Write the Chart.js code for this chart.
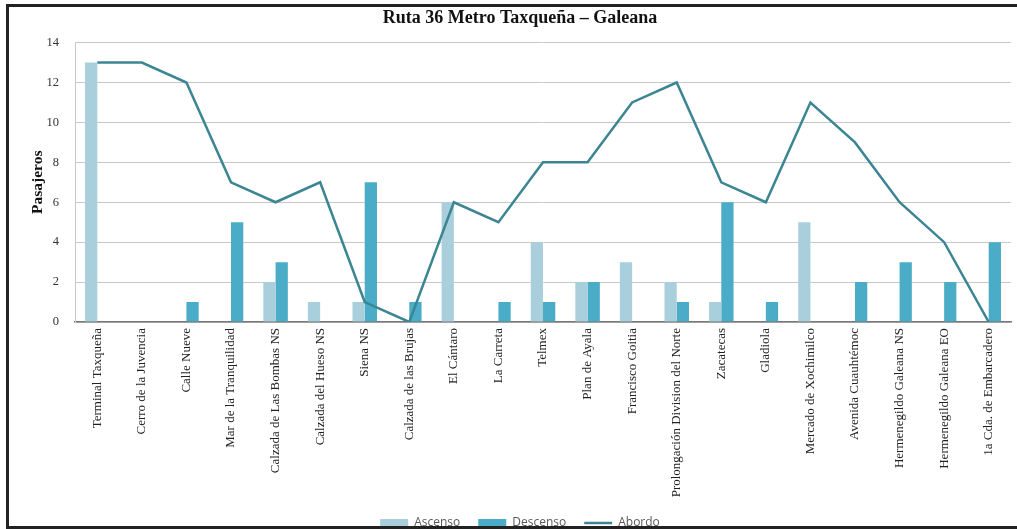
<!DOCTYPE html>
<html>
<head>
<meta charset="utf-8">
<script src="https://cdn.jsdelivr.net/npm/chart.js@4"></script>
<style>
  html, body { margin: 0; padding: 0; background: #fff; overflow: hidden; }
  #wrap { position: relative; width: 1017px; height: 539px; }
  #frame {
    position: absolute; left: 6px; top: 4px; width: 1011px; height: 519px;
    border-left: 3px solid #222; border-top: 3px solid #222; border-bottom: 3px solid #222;
    pointer-events: none;
  }
</style>
</head>
<body>
<div id="wrap">
  <canvas id="chart" width="1017" height="539"></canvas>
  <div id="frame"></div>
</div>
<script>
const paradas = [
  "Terminal Taxqueña", "Cerro de la Juvencia", "Calle Nueve", "Mar de la Tranquilidad",
  "Calzada de Las Bombas NS", "Calzada del Hueso NS", "Siena NS", "Calzada de las Brujas",
  "El Cántaro", "La Carreta", "Telmex", "Plan de Ayala", "Francisco Goitia",
  "Prolongación Division del Norte", "Zacatecas", "Gladiola", "Mercado de Xochimilco",
  "Avenida Cuauhtémoc", "Hermenegildo Galeana NS", "Hermenegildo Galeana EO",
  "1a Cda. de Embarcadero"
];
const ascenso  = [13, 0, 0, 0, 2, 1, 1, 0, 6, 0, 4, 2, 3, 2, 1, 0, 5, 0, 0, 0, 0];
const descenso = [0, 0, 1, 5, 3, 0, 7, 1, 0, 1, 1, 2, 0, 1, 6, 1, 0, 2, 3, 2, 4];
const abordo   = [13, 13, 12, 7, 6, 7, 1, 0, 6, 5, 8, 8, 11, 12, 7, 6, 11, 9, 6, 4, 0];

const serif = "'Liberation Serif', 'DejaVu Serif', serif";
const legendOrder = ["Ascenso", "Descenso", "Abordo"];

new Chart(document.getElementById("chart"), {
  data: {
    labels: paradas,
    datasets: [
      {
        type: "line",
        label: "Abordo",
        data: abordo,
        borderColor: "#3c8593",
        backgroundColor: "#3c8593",
        borderWidth: 2.5,
        pointRadius: 0,
        tension: 0,
        order: 0
      },
      {
        type: "bar",
        label: "Ascenso",
        data: ascenso,
        backgroundColor: "#a9cfdd",
        categoryPercentage: 0.55,
        barPercentage: 1.0,
        order: 1
      },
      {
        type: "bar",
        label: "Descenso",
        data: descenso,
        backgroundColor: "#4aacc6",
        categoryPercentage: 0.55,
        barPercentage: 1.0,
        order: 1
      }
    ]
  },
  options: {
    responsive: false,
    animation: false,
    layout: { padding: { left: 29, right: 6, top: 6, bottom: 0 } },
    plugins: {
      title: {
        display: true,
        text: "Ruta 36 Metro Taxqueña – Galeana",
        color: "#111",
        font: { family: serif, size: 18, weight: "bold" },
        padding: { top: 2, bottom: 13 }
      },
      legend: {
        position: "bottom",
        labels: {
          color: "#595959",
          font: { family: "'Open Sans', 'Noto Sans', sans-serif", size: 12 },
          usePointStyle: true,
          pointStyleWidth: 28,
          boxWidth: 28,
          boxHeight: 8,
          padding: 18,
          sort: (a, b) => legendOrder.indexOf(a.text) - legendOrder.indexOf(b.text),
          generateLabels: (chart) => {
            const items = Chart.defaults.plugins.legend.labels.generateLabels(chart);
            items.forEach(it => {
              if (it.text === "Abordo") {
                it.pointStyle = "line";
                it.lineWidth = 2.5;
                it.strokeStyle = "#3c8593";
              } else {
                it.pointStyle = "rect";
                it.lineWidth = 0;
              }
            });
            return items;
          }
        }
      },
      tooltip: { enabled: false }
    },
    scales: {
      x: {
        grid: { display: false, drawTicks: false },
        border: { color: "#777", width: 1.5 },
        ticks: {
          color: "#222",
          font: { family: serif, size: 13 },
          minRotation: 90,
          maxRotation: 90,
          autoSkip: false,
          padding: 6
        },
        afterFit: (s) => { s.height = 177; }
      },
      y: {
        min: 0,
        max: 14,
        ticks: {
          stepSize: 2,
          color: "#333",
          font: { family: serif, size: 12.5 },
          padding: 16
        },
        grid: { color: "#c8c8c8", drawTicks: false },
        border: { color: "#c8c8c8" },
        title: {
          display: true,
          text: "Pasajeros",
          color: "#111",
          font: { family: serif, size: 15.5, weight: "bold" },
          padding: 0
        },
        afterFit: (s) => { s.width = 46; }
      }
    }
  }
});
</script>
</body>
</html>
